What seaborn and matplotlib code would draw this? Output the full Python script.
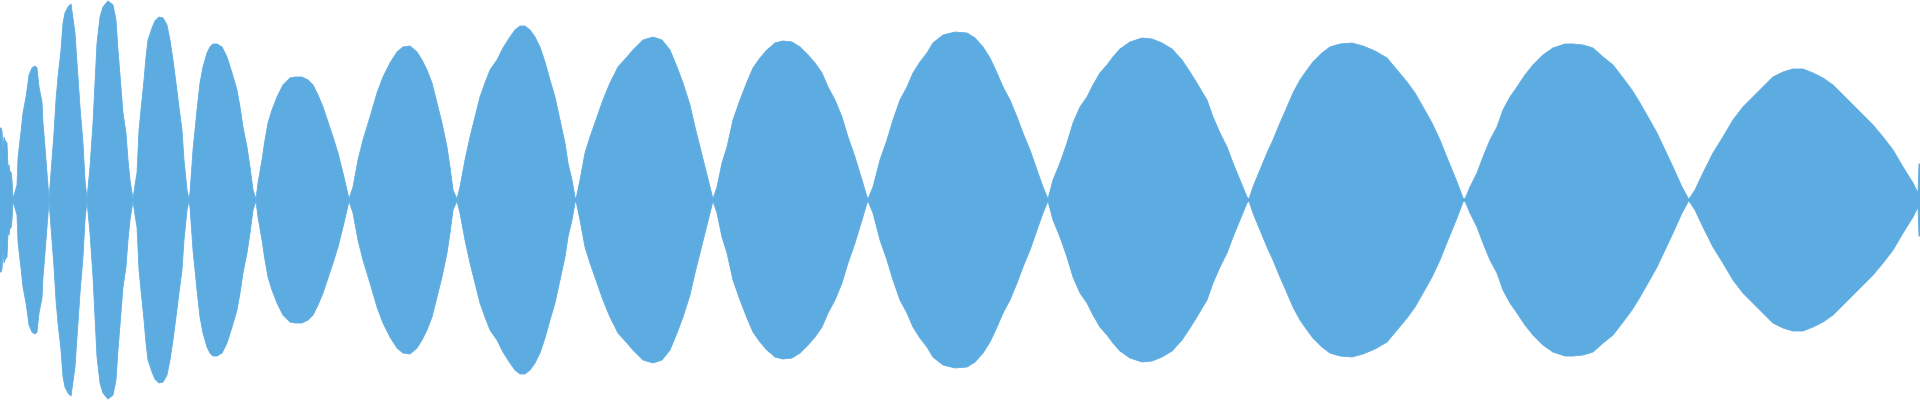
import matplotlib
matplotlib.use("Agg")
import matplotlib.pyplot as plt
import seaborn as sns
import pandas as pd

sns.set_theme(style="white")

WAVE_COLOR = "#5DACE1"

# sample positions (px along the clip) and waveform envelope amplitude (0..200)
sample_pos = [
    0, 1, 2, 3, 4, 5, 6, 7, 8, 9, 10, 11, 12, 13, 15,
    17, 18, 21, 23, 26, 28, 29, 32, 35, 37, 39, 42, 43, 45, 47, 48, 49,
    52, 54, 56, 58, 61, 63, 65, 68, 71, 75, 77, 80, 83, 85, 87,
    90, 93, 95, 97, 100, 103, 108, 113, 116, 118, 121, 123, 126, 128, 130, 133,
    135, 137, 139, 142, 144, 146, 148, 152, 155, 159, 163, 167, 170, 173, 176, 179, 182, 184, 187, 189,
    190, 193, 197, 200, 203, 207, 210, 213, 217, 222, 227, 232, 237, 240, 243, 247, 250, 253, 256,
    258, 262, 265, 268, 272, 277, 283, 290, 295, 302, 308, 313, 318, 323, 328, 333, 338, 343, 347, 349,
    353, 358, 363, 370, 377, 383, 390, 397, 403, 410, 417, 422, 427, 432, 437, 442, 447, 450, 453, 457,
    460, 465, 470, 475, 480, 485, 490, 497, 503, 510, 515, 520, 525, 530, 535, 540, 545, 550, 555, 560,
    565, 568, 572, 575, 576,
    580, 585, 590, 597, 603, 610, 618, 627, 633, 643, 653, 662, 670, 677, 683, 690, 695, 700, 705, 710, 713,
    717, 722, 727, 733, 740, 747, 753, 760, 767, 775, 783, 792, 800, 808, 815, 822, 828, 835, 842, 848,
    855, 862, 867, 868,
    873, 880, 887, 893, 900, 907, 913, 920, 927, 933, 943, 955, 967, 975, 983, 990, 997, 1003, 1010, 1017,
    1023, 1030, 1037, 1043, 1048,
    1053, 1060, 1067, 1073, 1080, 1087, 1093, 1100, 1107, 1113, 1120, 1130, 1142, 1152, 1162, 1172, 1182,
    1190, 1198, 1207, 1213, 1220, 1227, 1233, 1240, 1247, 1249,
    1253, 1260, 1267, 1273, 1280, 1287, 1293, 1300, 1307, 1313, 1322, 1330, 1340, 1352, 1363, 1375, 1387,
    1397, 1407, 1415, 1423, 1432, 1440, 1448, 1457, 1463, 1465,
    1470, 1477, 1483, 1490, 1497, 1503, 1510, 1517, 1525, 1533, 1543, 1553, 1565, 1573, 1583, 1593, 1603,
    1613, 1623, 1632, 1640, 1648, 1657, 1665, 1673, 1682, 1688, 1689,
    1695, 1703, 1713, 1723, 1733, 1743, 1753, 1763, 1773, 1783, 1793, 1803, 1813, 1823, 1833, 1843, 1853,
    1863, 1873, 1883, 1893, 1903, 1913, 1918, 1919, 1920,
]

amplitude = [
    72, 72, 69, 50, 63, 60, 58, 57, 33, 35, 28, 28, 20, 1, 8,
    15, 42, 68, 87, 103, 117, 125, 132, 134, 132, 113, 98, 77, 53, 27, 15, 1,
    40, 67, 100, 123, 150, 177, 187, 193, 196, 167, 137, 93, 57, 20, 1,
    33, 77, 117, 157, 183, 193, 199, 195, 180, 150, 113, 87, 67, 40, 20, 1,
    15, 27, 70, 100, 120, 143, 160, 172, 179, 183, 182, 175, 160, 140, 117, 93, 70, 40, 10, 1,
    7, 50, 90, 117, 133, 147, 153, 156, 156, 153, 143, 127, 110, 93, 73, 53, 33, 10, 1,
    17, 40, 60, 77, 90, 103, 115, 122, 123, 123, 120, 115, 105, 93, 78, 63, 47, 27, 10, 1,
    13, 40, 60, 83, 107, 123, 137, 148, 153, 154, 148, 140, 130, 117, 97, 77, 53, 33, 10, 1,
    13, 40, 63, 83, 103, 117, 130, 140, 152, 163, 170, 174, 174, 170, 163, 153, 138, 120, 103, 80,
    57, 37, 20, 3, 1,
    20, 47, 63, 83, 100, 117, 133, 143, 150, 160, 163, 160, 150, 133, 117, 95, 73, 53, 33, 13, 1,
    13, 37, 53, 80, 100, 118, 132, 142, 150, 157, 159, 158, 153, 145, 137, 127, 113, 100, 83, 63,
    43, 20, 3, 1,
    13, 40, 60, 80, 100, 113, 127, 138, 147, 157, 165, 168, 167, 162, 153, 142, 127, 113, 100, 83,
    67, 50, 30, 13, 1,
    20, 37, 57, 77, 93, 103, 115, 127, 135, 143, 151, 158, 162, 161, 157, 151, 140,
    128, 115, 100, 83, 67, 53, 37, 20, 3, 1,
    13, 30, 47, 60, 77, 93, 107, 120, 130, 138, 147, 153, 156, 157, 154, 149, 142,
    130, 118, 107, 93, 77, 60, 40, 18, 2, 1,
    13, 27, 43, 60, 73, 90, 103, 113, 125, 135, 145, 152, 156, 156, 155, 152, 143,
    135, 122, 110, 97, 83, 67, 50, 33, 13, 2, 1,
    10, 27, 47, 63, 80, 93, 103, 113, 123, 128, 131, 131, 127, 122, 115, 105, 95,
    85, 75, 63, 50, 33, 17, 7, 36, 36,
]

df = pd.DataFrame({"pos": sample_pos, "amp": amplitude})

fig = plt.figure(figsize=(19.2, 4.0), dpi=100)
ax = fig.add_axes([0, 0, 1, 1])

ax.fill_between(df["pos"], -df["amp"], df["amp"], color=WAVE_COLOR, linewidth=0)
sns.lineplot(data=df, x="pos", y="amp", ax=ax, color=WAVE_COLOR, linewidth=0.6, estimator=None)
df_neg = df.assign(amp=-df["amp"])
sns.lineplot(data=df_neg, x="pos", y="amp", ax=ax, color=WAVE_COLOR, linewidth=0.6, estimator=None)

ax.set_xlim(0, 1920)
ax.set_ylim(-200, 200)
ax.axis("off")

fig.savefig("out.png", dpi=100, facecolor="white")
